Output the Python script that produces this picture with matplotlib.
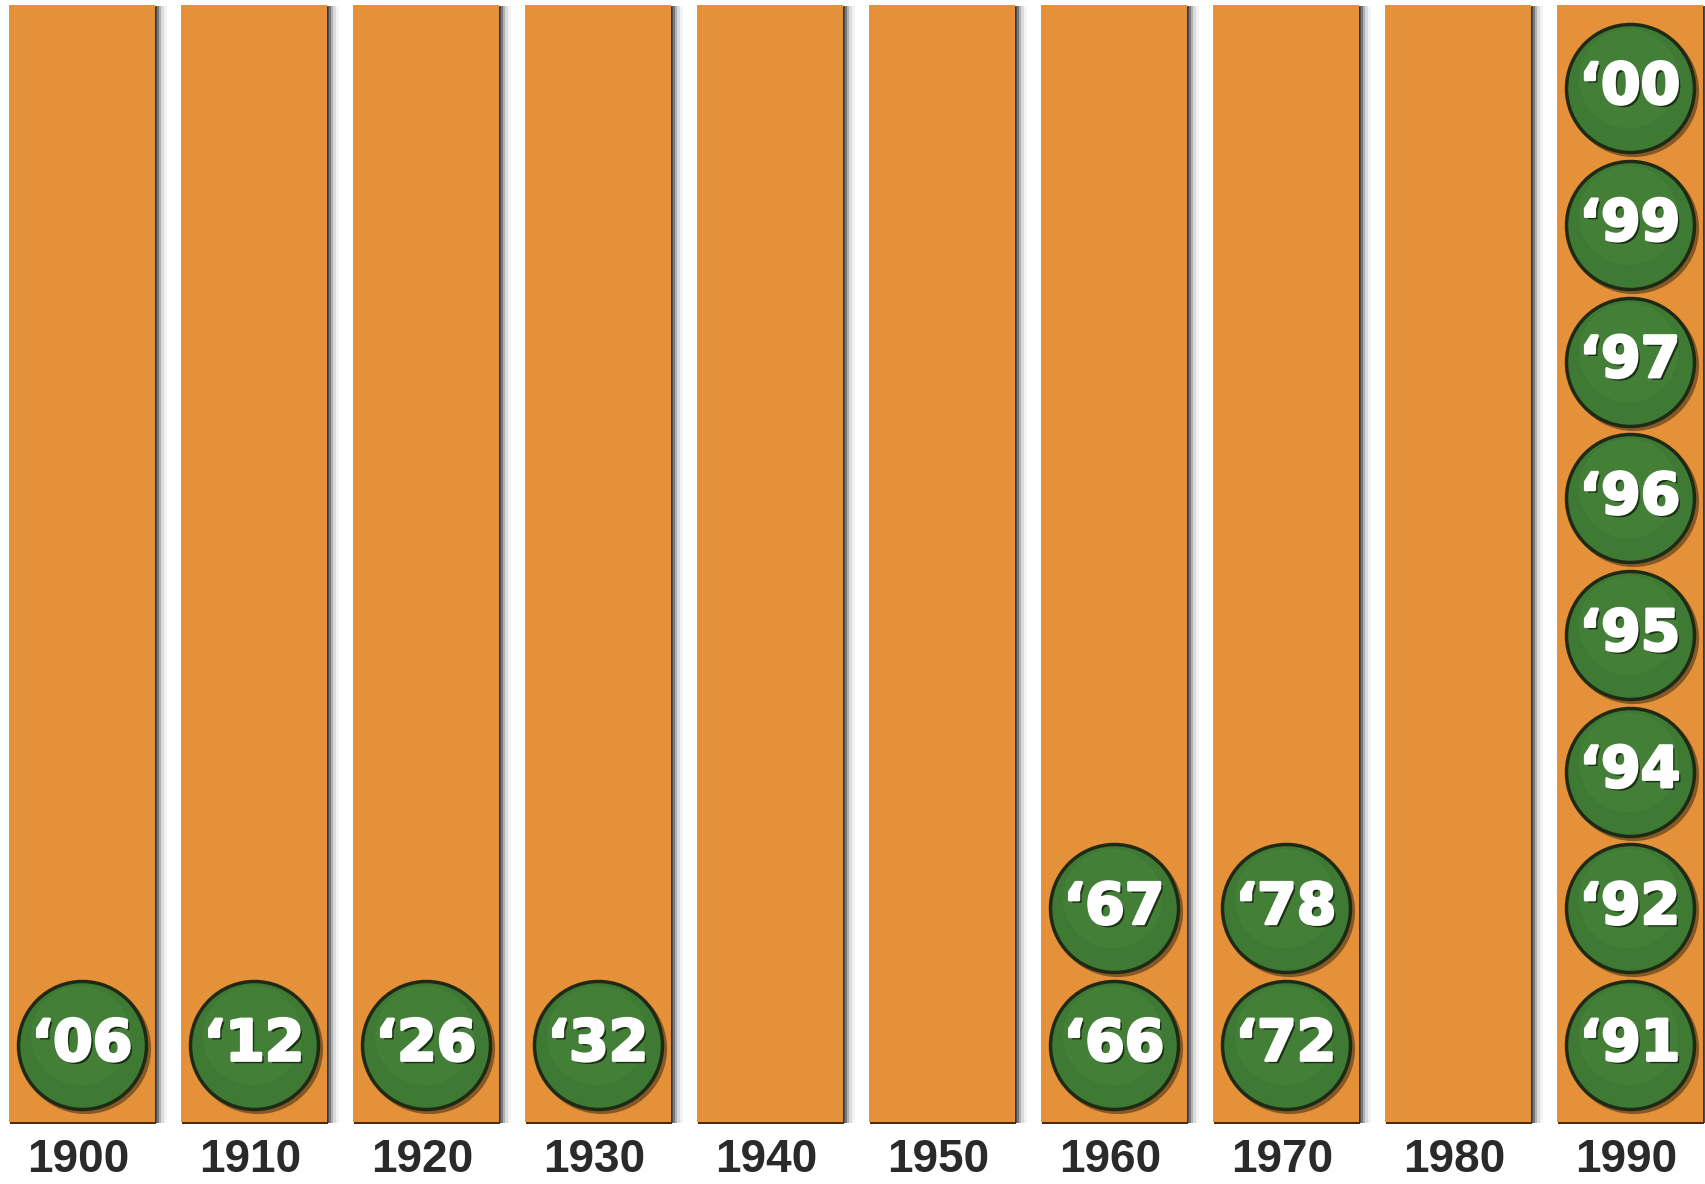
import matplotlib
matplotlib.use("Agg")
import numpy as np
import matplotlib.pyplot as plt
import matplotlib.patheffects as pe
from matplotlib.transforms import offset_copy

# decades shown as columns, and the years stacked in each column
decades = [1900, 1910, 1920, 1930, 1940, 1950, 1960, 1970, 1980, 1990]
years = [1906, 1912, 1926, 1932, 1966, 1967, 1972, 1978,
         1991, 1992, 1994, 1995, 1996, 1997, 1999, 2000]

orange = "#E5913A"
green = "#3E7A33"
rim = "#1E2A14"

fig = plt.figure(figsize=(17.06, 11.84), dpi=100)
ax = fig.add_axes([0, 0, 1, 1])
ax.set_xlim(-0.477, 9.442)
ax.set_ylim(-1.017, 7.645)
ax.axis("off")

x = np.arange(len(decades))
bar_bottom, bar_top = -0.563, 7.61
bw = 0.849

# soft shadow to the right of each column
for dx, a in [(12, 0.06), (9, 0.12), (6, 0.25), (4, 0.45), (2, 0.6)]:
    tr = offset_copy(ax.transData, fig, x=dx, y=-1, units="dots")
    ax.bar(x, bar_top - bar_bottom, bottom=bar_bottom, width=bw,
           color="#30343c", alpha=a, transform=tr, zorder=1, linewidth=0)
# thin dark line under each column
tr = offset_copy(ax.transData, fig, x=1, y=-2, units="dots")
ax.bar(x, bar_top - bar_bottom, bottom=bar_bottom, width=bw,
       color="#4a2c10", transform=tr, zorder=1.5, linewidth=0)
ax.bar(x, bar_top - bar_bottom, bottom=bar_bottom, width=bw,
       color=orange, zorder=2, linewidth=0)

for xi, d in zip(x, decades):
    ax.text(xi - 0.02, -0.84, str(d), ha="center", va="center", fontsize=33,
            fontweight="bold", family="Liberation Sans", color="#2a2a2a")

# stack the years inside their decade column
cols, rows, labels = [], [], []
count = {}
for y in years:
    d = (y - 1) // 10 * 10
    k = count.get(d, 0)
    count[d] = k + 1
    cols.append(decades.index(d))
    rows.append(k)
    labels.append("\u2018" + str(y)[-2:])

s = (2 * 64 * 0.72) ** 2
tr_sh = offset_copy(ax.transData, fig, x=3, y=-3, units="dots")
ax.scatter(cols, rows, s=s * 1.05, color="#3b2a12", alpha=0.55,
           transform=tr_sh, zorder=3, linewidths=0)
ax.scatter(cols, rows, s=s, color=green, edgecolors=rim, linewidths=2.5,
           zorder=4)
# faint highlight on the upper part of each dot
tr_hi = offset_copy(ax.transData, fig, x=-2, y=10, units="dots")
ax.scatter(cols, rows, s=s * 0.6, color="#5a9748", alpha=0.2,
           transform=tr_hi, zorder=5, linewidths=0)

for c, r, t in zip(cols, rows, labels):
    ax.text(c, r, t, ha="center", va="center", fontsize=41,
            fontweight="bold", color="white", zorder=6,
            family="DejaVu Sans",
            path_effects=[pe.withSimplePatchShadow(offset=(2, -2),
                                                   shadow_rgbFace="#14240f",
                                                   alpha=0.85),
                          pe.withStroke(linewidth=2, foreground="white")])

fig.savefig("out.png", dpi=100, facecolor="white")
